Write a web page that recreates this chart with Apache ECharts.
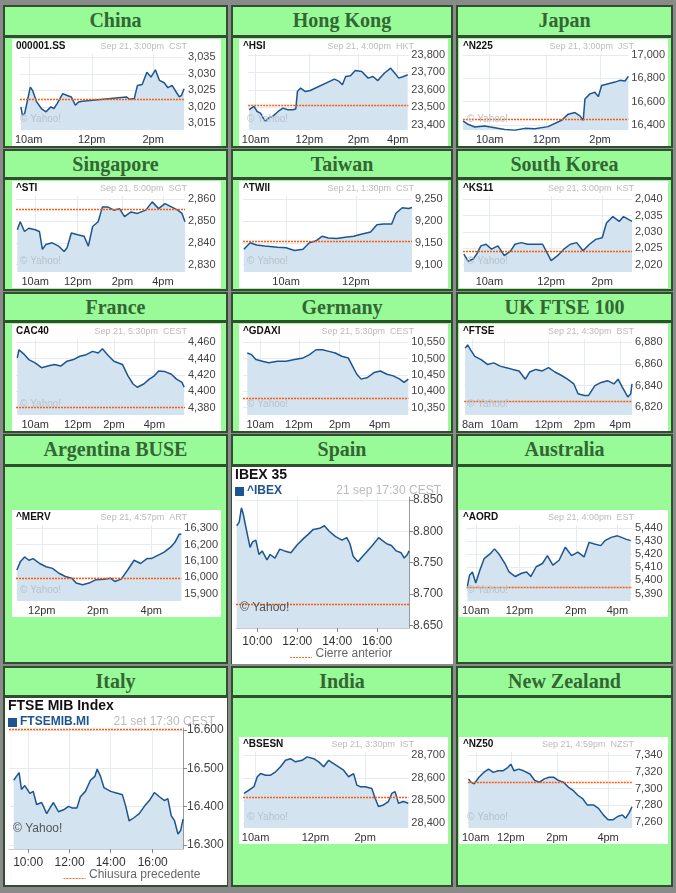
<!DOCTYPE html>
<html><head><meta charset="utf-8">
<script src="https://cdn.jsdelivr.net/npm/echarts@6/dist/echarts.min.js"></script>
<style>
body{margin:0;background:#8a8a8a;width:676px;height:893px;overflow:hidden;font-family:Arial,"Liberation Sans",sans-serif}
.c{position:absolute;background:#98fb98;border:2px solid #2f4f2f;box-sizing:border-box}
.h{text-align:center;font:bold 20px "Liberation Serif","DejaVu Serif",serif;color:#336633;line-height:26px}
.b{position:absolute;background:#fff}
</style></head><body>
<div id="root"></div>
<script>
// ---- data: [x position on the original time axis, index value] ----
var chinaData=[[45,3020],[50,3017.5],[57,3018],[66,3022],[75,3026],[82,3025],[95,3021.5],[110,3019.5],[125,3018.5],[140,3020],[150,3019.5],[160,3021],[178,3024],[190,3023.5],[205,3023],[218,3020.5],[228,3021.5],[240,3021.7],[380,3023],[390,3022.3],[405,3022.5],[415,3026.5],[430,3026.8],[445,3030.5],[458,3029],[472,3031.2],[485,3028],[500,3027.3],[512,3025.8],[525,3026.5],[538,3024.5],[548,3023],[555,3023.5],[563,3025.5]];
var hkData=[[35,23486],[50,23505],[60,23476],[70,23467],[85,23419],[95,23438],[110,23451],[125,23476],[140,23495],[155,23486],[170,23486],[180,23490],[185,23590],[195,23610],[210,23590],[225,23596],[300,23661],[315,23648],[325,23629],[335,23676],[350,23680],[365,23710],[385,23705],[405,23667],[420,23676],[435,23653],[455,23695],[475,23724],[490,23691],[500,23667],[515,23676],[528,23686]];
var japanData=[[695,16435],[710,16406],[730,16383],[760,16391],[790,16377],[820,16362],[850,16354],[880,16371],[910,16368],[950,16386],[990,16441],[1010,16493],[1030,16507],[1045,16478],[1055,16441],[1060,16623],[1075,16667],[1090,16681],[1100,16643],[1110,16739],[1130,16754],[1150,16768],[1165,16783],[1180,16777],[1190,16817]];
var stiData=[[38,2846],[45,2849.7],[55,2845.2],[65,2846.7],[80,2846],[90,2845.2],[97,2837],[105,2839.2],[120,2840],[135,2838.5],[148,2836],[155,2837.7],[165,2844.5],[180,2843.7],[195,2843],[205,2838.5],[215,2847.5],[228,2849.7],[238,2856.5],[250,2856.5],[265,2855],[278,2855.7],[290,2852],[305,2854.2],[320,2853.5],[340,2855],[355,2858.8],[370,2855.7],[385,2858],[400,2856.5],[415,2855],[425,2853.5],[432,2849.7]];
var twiiData=[[560,9135],[575,9150],[590,9145],[610,9142.5],[640,9140],[660,9138.5],[680,9132.5],[700,9135],[715,9150],[730,9154],[745,9165],[760,9161],[780,9160],[800,9163],[820,9165],[835,9169],[860,9175],[875,9191.5],[890,9193],[910,9193],[920,9218],[935,9230.5],[950,9229],[958,9231]];
var ks11Data=[[1070,2023.2],[1080,2021],[1092,2021.7],[1100,2023.2],[1110,2025.7],[1122,2026.2],[1135,2024.7],[1150,2025.7],[1165,2022.7],[1180,2024.2],[1190,2026.2],[1205,2026.7],[1220,2026.2],[1240,2026.2],[1255,2026.2],[1265,2023.7],[1275,2021.2],[1290,2022.7],[1305,2024.7],[1320,2026.2],[1335,2026.7],[1350,2024.2],[1365,2026.2],[1380,2027.7],[1395,2028.2],[1405,2032.7],[1420,2034.7],[1435,2033.2],[1445,2034.7],[1465,2033.2]];
var cacData=[[38,4440.8],[42,4450.8],[55,4444.8],[65,4438.8],[80,4434.8],[95,4428.8],[110,4430.8],[125,4432.8],[140,4430.8],[155,4436.8],[170,4438.8],[185,4442.8],[200,4444.8],[215,4448.8],[228,4446.8],[238,4452],[250,4444.8],[265,4436.8],[285,4432.8],[298,4418.8],[310,4408.8],[320,4404.8],[335,4408.8],[348,4414.8],[360,4418.8],[370,4424.8],[385,4424],[400,4420.8],[412,4414.8],[425,4410.8],[430,4404.8]];
var daxData=[[570,10517],[580,10512],[590,10497],[605,10492],[620,10487],[640,10492],[660,10492],[680,10497],[700,10502],[715,10512],[730,10527],[745,10527],[760,10522],[775,10517],[790,10507],[805,10502],[815,10477],[825,10452],[835,10437],[850,10442],[865,10457],[880,10462],[895,10452],[910,10447],[925,10437],[935,10427],[945,10437]];
var ftseData=[[1072,6874.6],[1078,6877.6],[1085,6873],[1095,6867],[1110,6864],[1125,6859.6],[1140,6861],[1155,6858],[1170,6856.6],[1185,6855],[1200,6853.6],[1215,6846],[1225,6852.6],[1240,6855],[1255,6853.6],[1270,6856.6],[1285,6852.6],[1300,6849.6],[1315,6846],[1330,6841.6],[1340,6832.6],[1355,6831],[1365,6831],[1380,6840],[1395,6843],[1410,6844.6],[1425,6841.6],[1435,6846],[1445,6838.6],[1458,6829.6],[1465,6832.6],[1468,6841.6]];
var mervData=[[37,16044],[45,16094],[55,16124],[65,16104],[75,16114],[90,16084],[105,16064],[120,16054],[135,16024],[150,16004],[165,15994],[175,15964],[190,15954],[205,15964],[220,15984],[240,15988],[255,15994],[265,15974],[280,15988],[295,16044],[310,16104],[325,16084],[340,16114],[350,16114],[365,16134],[380,16154],[395,16184],[405,16214],[415,16264],[420,16264]];
var ibexData=[[30,8808.7],[38,8814.5],[45,8837.4],[50,8828.8],[58,8808.7],[65,8791.5],[72,8774.3],[80,8782.9],[90,8785.8],[100,8762.9],[110,8768.6],[125,8754.3],[135,8762.9],[150,8757.2],[165,8771.5],[180,8768.6],[200,8765.7],[220,8778.3],[240,8788.6],[255,8795.4],[270,8802.9],[290,8804.6],[305,8808.7],[320,8800],[340,8791.5],[360,8785.8],[375,8789.8],[385,8780],[395,8760],[410,8751.4],[425,8760],[440,8768.6],[455,8777.2],[475,8789.8],[485,8785.8],[500,8780],[515,8777.2],[530,8768.6],[545,8765.7],[555,8757.2],[565,8762.9],[570,8768.6]];
var aordData=[[1070,5395.5],[1075,5404],[1082,5406.5],[1090,5398],[1100,5408],[1110,5416.7],[1125,5420.5],[1135,5424.2],[1145,5420.5],[1160,5413],[1170,5406.5],[1185,5403],[1200,5405.5],[1212,5406.5],[1222,5403],[1235,5410.5],[1250,5413],[1262,5419],[1275,5411.7],[1290,5415.5],[1305,5425.5],[1320,5419],[1335,5421.7],[1350,5418],[1362,5429.2],[1375,5428],[1390,5426.7],[1400,5430.5],[1415,5433],[1430,5434.2],[1440,5433],[1450,5431.7],[1462,5430.5]];
var mibData=[[42,16469],[50,16479],[58,16489],[65,16445],[75,16455],[90,16435],[100,16440],[110,16406],[125,16411],[140,16382],[150,16397],[160,16411],[175,16387],[190,16392],[205,16401],[215,16397],[230,16397],[240,16426],[255,16440],[270,16469],[283,16479],[290,16498],[300,16479],[310,16450],[330,16440],[350,16435],[365,16431],[375,16401],[385,16363],[400,16372],[415,16382],[430,16401],[445,16416],[460,16437],[475,16426],[490,16416],[500,16421],[510,16377],[520,16363],[530,16329],[538,16338],[545,16368]];
var sensexData=[[35,28531],[50,28546],[65,28561],[75,28605],[85,28619],[100,28612],[115,28612],[130,28627],[145,28649],[160,28678],[175,28685],[190,28671],[210,28678],[225,28693],[245,28685],[260,28671],[275,28649],[290,28678],[305,28663],[320,28649],[335,28634],[350,28605],[365,28619],[375,28568],[385,28561],[400,28561],[420,28553],[430,28510],[440,28473],[455,28480],[470,28495],[480,28531],[490,28539],[500,28488],[515,28495],[530,28488]];
var nzData=[[697,7311.5],[705,7307.6],[715,7305.6],[730,7313.4],[745,7319.2],[760,7323.1],[775,7319.2],[790,7321.1],[805,7321.1],[820,7325],[830,7329],[840,7321.1],[855,7323.1],[870,7321.1],[890,7317.3],[905,7309.5],[920,7307.6],[935,7311.5],[950,7313.4],[965,7313.4],[980,7309.5],[995,7307.6],[1010,7301.8],[1025,7297.9],[1040,7292],[1055,7288.1],[1070,7280.3],[1090,7280.3],[1105,7276.4],[1120,7268.6],[1135,7262.8],[1150,7262.8],[1165,7266.7],[1180,7268.6],[1190,7264.7],[1200,7270.5],[1210,7278.3]];

var prevClose={china:3022.3,hk:23510,japan:16446,sti:2855.2,twii:9153,ks11:2024.2,cac:4380.8,dax:10378,ftse:6825.7,merv:15995,ibex:8682.7,aord:5395,mib:16601,sensex:28515,nz:7307.6};
var yTicks={china:[3015,3020,3025,3030,3035],hk:[23400,23500,23600,23700,23800],japan:[16400,16600,16800,17000],sti:[2830,2840,2850,2860],twii:[9100,9150,9200,9250],ks11:[2020,2025,2030,2035,2040],cac:[4380,4400,4420,4440,4460],dax:[10350,10400,10450,10500,10550],ftse:[6820,6840,6860,6880],merv:[15900,16000,16100,16200,16300],ibex:[8650,8700,8750,8800,8850],aord:[5390,5400,5410,5420,5430,5440],mib:[16300,16400,16500,16600],sensex:[28400,28500,28600,28700],nz:[7260,7280,7300,7320,7340]};
var xTicks={china:[[70,'10am'],[270,'12pm'],[465,'2pm']],hk:[[55,'10am'],[222,'12pm'],[375,'2pm'],[497,'4pm']],japan:[[775,'10am'],[945,'12pm'],[1105,'2pm']],
 sti:[[80,'10am'],[180,'12pm'],[285,'2pm'],[380,'4pm']],twii:[[660,'10am'],[825,'12pm']],ks11:[[1130,'10am'],[1275,'12pm'],[1395,'2pm']],
 cac:[[80,'10am'],[180,'12pm'],[265,'2pm'],[360,'4pm']],dax:[[600,'10am'],[690,'12pm'],[785,'2pm'],[878,'4pm']],ftse:[[1090,'8am'],[1165,'10am'],[1270,'12pm'],[1355,'2pm'],[1440,'4pm']],
 merv:[[95,'12pm'],[225,'2pm'],[350,'4pm']],ibex:[[95,'10:00'],[220,'12:00'],[345,'14:00'],[470,'16:00']],aord:[[1090,'10am'],[1195,'12pm'],[1330,'2pm'],[1430,'4pm']],
 mib:[[85,'10:00'],[208,'12:00'],[330,'14:00'],[455,'16:00']],sensex:[[70,'10am'],[250,'12pm'],[400,'2pm']],nz:[[720,'10am'],[830,'12pm'],[975,'2pm'],[1135,'4pm']]};

var cols=[[3,228,9],[231,453,8],[456,673,3]];
var rows=[[5,36,148],[149,178,291],[292,321,433],[434,465,664],[666,696,887]];
var names=[['China','Hong Kong','Japan'],['Singapore','Taiwan','South Korea'],['France','Germany','UK FTSE 100'],['Argentina BUSE','Spain','Australia'],['Italy','India','New Zealand']];
var small=[
 [['china','000001.SS','Sep 21, 3:00pm  CST',chinaData,[42,566],[3013,3036]],['hk','^HSI','Sep 21, 4:00pm  HKT',hkData,[32,530],[23370,23805]],['japan','^N225','Sep 21, 3:00pm  JST',japanData,[695,1190],[16357,17009]]],
 [['sti','^STI','Sep 21, 5:00pm  SGT',stiData,[35,432],[2826.6,2861.5]],['twii','^TWII','Sep 21, 1:30pm  CST',twiiData,[558,958],[9083,9257.5]],['ks11','^KS11','Sep 21, 3:00pm  KST',ks11Data,[1068,1465],[2017.7,2041]]],
 [['cac','CAC40','Sep 21, 5:30pm  CEST',cacData,[35,432],[4370.8,4464]],['dax','^GDAXI','Sep 21, 5:30pm  CEST',daxData,[560,945],[10327,10560]],['ftse','^FTSE','Sep 21, 4:30pm  BST',ftseData,[1070,1468],[6813,6883]]],
 [['merv','^MERV','Sep 21, 4:57pm  ART',mervData,[35,420],[15854,16320]],null,['aord','^AORD','Sep 21, 4:00pm  EST',aordData,[1068,1465],[5384.25,5442.5]]],
 [null,['sensex','^BSESN','Sep 21, 3:30pm  IST',sensexData,[32,530],[28378,28714.6]],['nz','^NZ50','Sep 21, 4:59pm  NZST',nzData,[695,1210],[7253,7343.5]]]
];
var root=document.getElementById('root');
function div(cls,l,t,w,h){var d=document.createElement('div');d.className=cls;d.style.cssText+='left:'+l+'px;top:'+t+'px;width:'+w+'px;height:'+h+'px';root.appendChild(d);return d;}
function fmt(v,eu){return String(v).replace(/\B(?=(\d{3})+(?!\d))/g,eu?'.':',');}

function series(key,data,w){
 return [{type:'line',data:data,symbol:'none',lineStyle:{color:'#1d5590',width:w},areaStyle:{color:'#d3e3ef',opacity:1},
  markLine:{silent:true,symbol:'none',label:{show:false},emphasis:{disabled:true},lineStyle:{color:'#ff5a0a',type:[2,1],width:1.4,opacity:1},data:[{yAxis:prevClose[key]}]}}];
}
function axes(key,xr,yr,eu,fs,big){
 var lab={};xTicks[key].forEach(function(t){lab[t[0]]=t[1];});
 var xs=xTicks[key].map(function(t){return t[0];});
 return {
  xAxis:{type:'value',min:xr[0],max:xr[1],axisLine:{show:big,lineStyle:{color:'#ccc'}},axisTick:{show:big,length:4,customValues:xs,lineStyle:{color:'#888'}},
   splitLine:{show:true,lineStyle:{color:'#e6ebf0'}},axisLabel:{customValues:xs,formatter:function(v){return lab[v]||'';},color:'#333',fontSize:fs,margin:big?8:4}},
  yAxis:{type:'value',position:'right',min:yr[0],max:yr[1],axisLine:{show:big,lineStyle:{color:'#999'}},axisTick:{show:big,length:4,customValues:yTicks[key],lineStyle:{color:'#888'}},
   splitLine:{show:true,lineStyle:{color:'#e6ebf0'}},axisLabel:{customValues:yTicks[key],formatter:function(v){return fmt(v,eu);},color:'#444',fontSize:fs,margin:big?4:3}}
 };
}
for(var r=0;r<5;r++){
 for(var c=0;c<3;c++){
  var x0=cols[c][0],x1=cols[c][1];
  var hd=div('c h',x0,rows[r][0],x1-x0,rows[r][1]-rows[r][0]+1);hd.textContent=names[r][c];
  div('c',x0,rows[r][1],x1-x0,rows[r][2]-rows[r][1]);
  var s=small[r][c];
  if(!s)continue;
  var bTop=rows[r][1]+3;
  if(r==3)bTop=rows[r][1]+45;
  if(r==4)bTop=rows[r][1]+41;
  var box=div('b',x0+cols[c][2],bTop,209,107);
  var ch=echarts.init(box);
  var o=axes(s[0],s[4],s[5],false,11,false);
  o.animation=false;
  o.grid={left:4,right:36,top:15,bottom:16};
  o.graphic=[{type:'text',left:4,top:2,style:{text:s[1],font:'bold 10px Arial',fill:'#111'}},
   {type:'text',right:34,top:3,style:{text:s[2],font:'9px Arial',fill:'#bbb'}},
   {type:'text',z:100,left:8,bottom:22,style:{text:'\u00a9 Yahoo!',font:'10px Arial',fill:'#b8c2cc'}}];
  o.series=series(s[0],s[3],1.5);
  ch.setOption(o);
 }
}
// big charts: Spain and Italy
function big(key,l,t,w,h,title,sym,stamp,data,xr,yr,legend){
 var box=div('b',l,t,w,h);
 var ch=echarts.init(box);
 var o=axes(key,xr,yr,true,12,true);
 o.animation=false;
 o.grid={left:4,right:44,top:30,bottom:36};
 o.graphic=[{type:'text',left:3,top:1,style:{text:title,font:'bold 14px Arial',fill:'#111'}},
  {type:'rect',left:3,top:20,shape:{width:9,height:9},style:{fill:'#1d5590'}},
  {type:'text',left:15,top:18,style:{text:sym,font:'bold 12px Arial',fill:'#1d5590'}},
  {type:'text',right:12,top:18,style:{text:stamp,font:'12px Arial',fill:'#bbb'}},
  {type:'text',z:100,left:8,top:h-62,style:{text:'\u00a9 Yahoo!',font:'12px Arial',fill:'#555'}},
  {type:'line',left:w/2-55,top:h-9,shape:{x1:0,y1:0,x2:22,y2:0},style:{stroke:'#ff6a1a',lineDash:[2,1]}},
  {type:'text',left:w/2-27,top:h-16,style:{text:legend,font:'12px Arial',fill:'#666'}}];
 o.series=series(key,data,1.5);
 ch.setOption(o);
}
big('ibex',232,467,221,197,'IBEX 35','^IBEX','21 sep 17:30 CEST',ibexData,[28,570],[8645.6,8854.6],'Cierre anterior');
big('mib',5,698,222,187,'FTSE MIB Index','FTSEMIB.MI','21 set 17:30 CEST',mibData,[28,545],[16290,16605],'Chiusura precedente');
</script></body></html>
